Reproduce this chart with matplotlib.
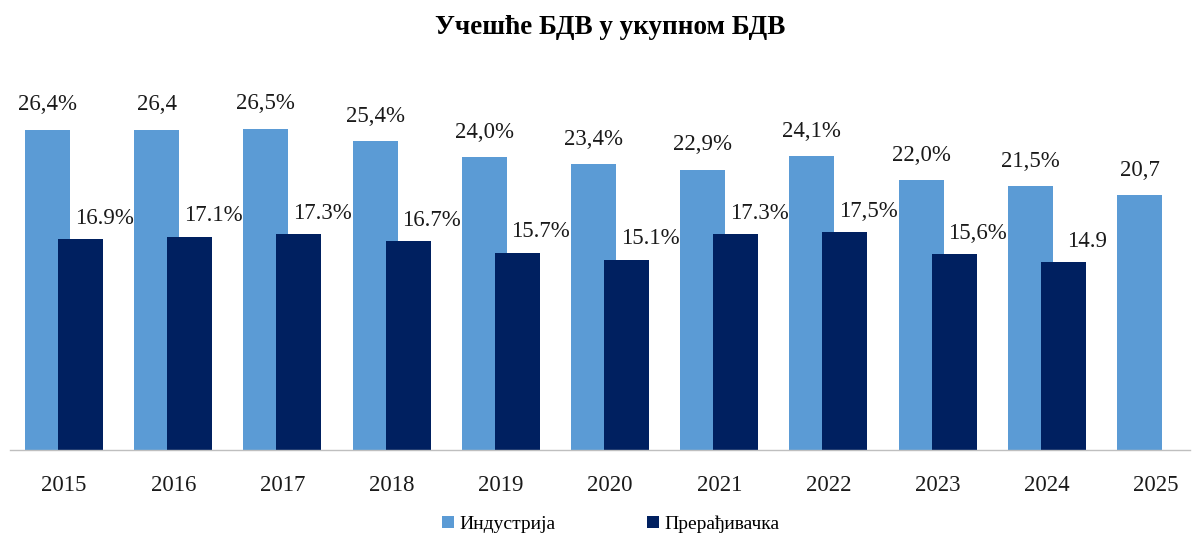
import matplotlib
matplotlib.use("Agg")
import matplotlib.pyplot as plt
import numpy as np

years = ["2015", "2016", "2017", "2018", "2019", "2020", "2021", "2022", "2023", "2024", "2025"]
industry = [26.4, 26.4, 26.5, 25.4, 24.0, 23.4, 22.9, 24.1, 22.0, 21.5, 20.7]
manufacturing = [16.9, 17.1, 17.3, 16.7, 15.7, 15.1, 17.3, 17.5, 15.6, 14.9]
industry_labels = ["26,4%", "26,4", "26,5%", "25,4%", "24,0%", "23,4%", "22,9%", "24,1%", "22,0%", "21,5%", "20,7"]
manufacturing_labels = ["16.9%", "17.1%", "17.3%", "16.7%", "15.7%", "15.1%", "17.3%", "17,5%", "15,6%", "14.9"]
series_names = ["Индустрија", "Прерађивачка"]
title = "Учешће БДВ у укупном БДВ"

LIGHT = "#5B9BD5"
DARK = "#002060"
YMIN = -1.45
YMAX = 32.46

plt.rcParams['font.family'] = ['Liberation Serif', 'DejaVu Serif']

fig = plt.figure(figsize=(11.95, 5.38), dpi=100)
ax = fig.add_axes([10/1195, 88/538, 1180/1195, (450-60)/538])

x = np.arange(len(years))
w = 0.412
off = 0.151

b1 = ax.bar(x - off, np.array(industry) - YMIN, w, bottom=YMIN, color=LIGHT, zorder=2, label=series_names[0])
xm = x[:len(manufacturing)]
b2 = ax.bar(xm + off, np.array(manufacturing) - YMIN, w, bottom=YMIN, color=DARK, zorder=3, label=series_names[1])

for xi, v, s in zip(x, industry, industry_labels):
    ax.annotate(s, (xi - off, v), xytext=(0, 18), textcoords="offset points",
                ha="center", va="center", fontsize=16.5, color="#1a1a1a")
for xi, v, s in zip(xm, manufacturing, manufacturing_labels):
    ax.annotate(s, (xi + off, v), xytext=(17, 15), textcoords="offset points",
                ha="center", va="center", fontsize=16.5, color="#1a1a1a", zorder=4)

ax.set_xlim((10-64)/109.2, (1190-64)/109.2)
ax.set_ylim(YMIN, YMAX)
ax.set_xticks(x)
ax.set_xticklabels(years, fontsize=16.5, color="#1a1a1a")
ax.set_yticks([])
ax.tick_params(axis="x", length=0, pad=18)
for sp in ["top", "right", "left"]:
    ax.spines[sp].set_visible(False)
ax.spines["bottom"].set_color("#BFBFBF")
ax.spines["bottom"].set_linewidth(1)
ax.spines["bottom"].set_zorder(5)

fig.text(610/1195, 1 - 28/538, title, ha="center", va="center", fontsize=19.5, fontweight="bold", color="#000000")

fig.legend(handles=[b1, b2], labels=series_names, loc="center", bbox_to_anchor=(611/1195, 1 - 524/538),
           ncol=2, frameon=False, fontsize=14, handlelength=0.6, handleheight=0.6,
           handletextpad=0.3, columnspacing=4.7)

fig.savefig("out.png", dpi=100)
